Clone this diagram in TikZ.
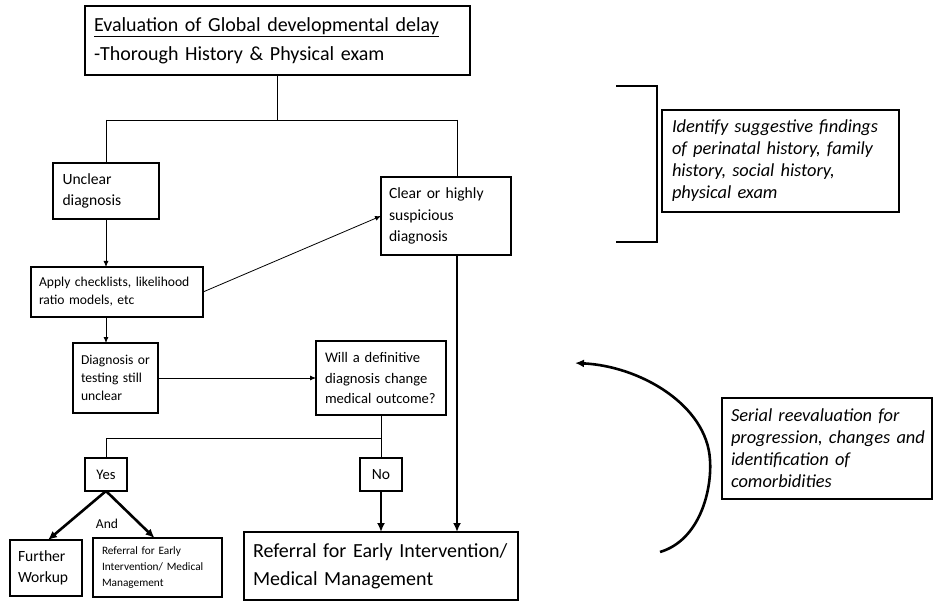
\documentclass[tikz,border=0pt]{standalone}
\usepackage{fontspec}
\setmainfont{Carlito}
\usetikzlibrary{arrows.meta,calc}
\begin{document}
\begin{tikzpicture}[x=1pt,y=-1pt,
  box/.style={draw, line width=1.1pt, anchor=north west, inner xsep=9pt, inner ysep=0pt, outer sep=0pt, align=left},
  cbox/.style={draw, line width=1.1pt, anchor=north west, inner sep=0pt, outer sep=0pt, align=center},
  thinline/.style={line width=0.9pt},
  thinarr/.style={line width=0.8pt, -{Latex[length=6pt,width=5pt]}},
  thickarr/.style={line width=2.6pt, -{Latex[length=9pt,width=8pt]}},
  fa/.style={font=\fontsize{20}{29}\selectfont},
  fb/.style={font=\fontsize{15.6}{21.5}\selectfont},
  fc/.style={font=\fontsize{13.6}{18}\selectfont},
  fd/.style={font=\fontsize{14.6}{20.8}\selectfont},
  fe/.style={font=\fontsize{11.3}{16}\selectfont},
  ff/.style={font=\fontsize{20}{28.3}\selectfont},
  fi/.style={font=\fontsize{18.4}{22}\selectfont\itshape},
]
\useasboundingbox (0,0) rectangle (933,601);

% boxes
\node[box, fa, text width=367pt, minimum height=69pt] (top) at (85,6)
  {\underline{Evaluation of Global developmental delay}\\-Thorough History \& Physical exam};
\node[box, fb, text width=87pt, minimum height=56pt, inner xsep=9.5pt] (unclear) at (53,163)
  {Unclear\\diagnosis};
\node[box, fb, text width=114pt, minimum height=78pt, inner xsep=8pt] (clear) at (381,177)
  {Clear or highly\\suspicious\\diagnosis};
\node[box, fc, text width=156pt, minimum height=50pt, inner xsep=8pt] (apply) at (31,267)
  {\mbox{Apply checklists, likelihood}\\ratio models, etc};
\node[box, fc, text width=69pt, minimum height=70pt, inner xsep=8pt] (diag) at (73,343)
  {\mbox{Diagnosis or}\\testing still\\unclear};
\node[box, fd, text width=112pt, minimum height=74pt] (will) at (316,341)
  {Will a definitive\\diagnosis change\\\mbox{medical outcome?}};
\node[cbox, fd, minimum width=42pt, minimum height=33pt] (yes) at (85,458) {Yes};
\node[cbox, fb, minimum width=42pt, minimum height=33pt] (no) at (360,458) {No};
\node[box, fb, text width=56pt, minimum height=56pt, inner xsep=8pt] (further) at (10,540)
  {Further\\Workup};
\node[box, fe, text width=111pt, minimum height=59pt] (sref) at (93,538)
  {Referral for Early\\Intervention/ Medical\\Management};
\node[box, ff, text width=256pt, minimum height=68pt] (ref) at (244,532)
  {\mbox{Referral for Early Intervention/}\\Medical Management};
\node[box, fi, text width=217pt, minimum height=102pt, inner xsep=10pt] (ident) at (662,110)
  {\mbox{Identify suggestive findings}\\\mbox{of perinatal history, family}\\history, social history,\\physical exam};
\node[box, fi, text width=192pt, minimum height=101pt] (serial) at (722,398)
  {Serial reevaluation for\\\mbox{progression, changes and}\\identification of\\comorbidities};
\node[fc] (and) at (107,524) {And};

% tree from top box
\coordinate (jL) at (106,120);
\coordinate (jR) at (457,120);
\draw[thinline] (top.south) -- (top.south |- jL);
\draw[thinline] (jL) -- (jR);
\draw[thinline] (jL) -- (jL |- unclear.north);
\draw[thinline] (jR) -- (jR |- clear.north);

% left column
\draw[thinarr] (jL |- unclear.south) -- (jL |- apply.north);
\draw[thinarr] (jL |- apply.south) -- (jL |- diag.north);
\draw[thinarr] (apply.east) -- (clear.west);
\draw[thinarr] (diag.east) -- (will.west);

% will -> yes / no
\coordinate (jY) at (381,438);
\draw[thinline] (will.south) -- (no.north);
\draw[thinline] (jY) -| (yes.north);

% thick arrows
\draw[thickarr] (no.south) -- (no.south |- ref.north);
\draw[thickarr] (jR |- clear.south) -- (jR |- ref.north);
\draw[thickarr] (yes.south) -- ($(further.north)+(2,0)$);
\draw[thickarr] (yes.south) -- ($(sref.north)+(-3,0)$);

% bracket
\coordinate (b1) at (616,86);
\coordinate (b2) at (616,242);
\draw[line width=2pt] (b1) -| (657,242) -- (b2);

% curved feedback arrow
\coordinate (c1) at (660,552);
\coordinate (c2) at (710,460);
\coordinate (c3) at (575,363);
\draw[line width=2.6pt, -{Latex[length=9pt,width=8pt]}]
  (c1) .. controls (700,540) and (712,490) .. (c2)
       .. controls (707,405) and (640,366) .. (c3);
\end{tikzpicture}
\end{document}
